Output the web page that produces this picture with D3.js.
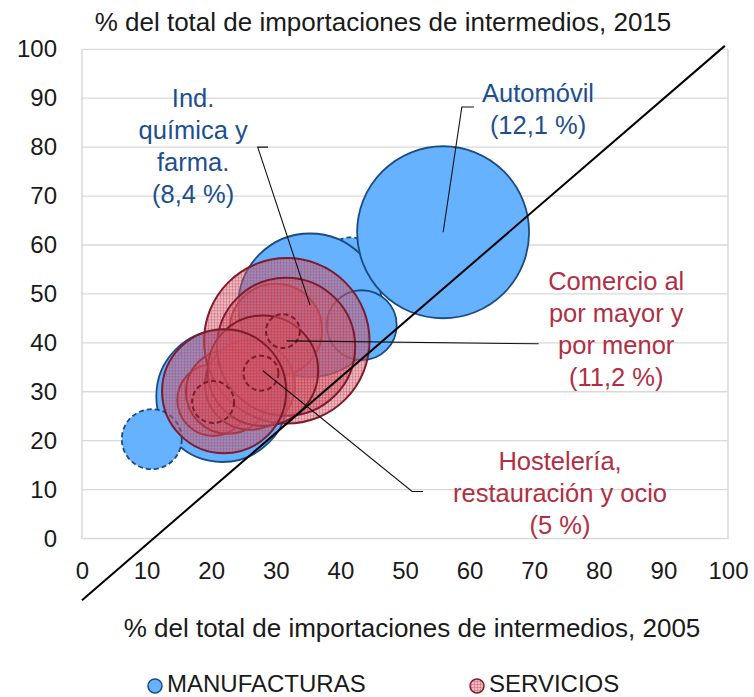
<!DOCTYPE html>
<html>
<head>
<meta charset="utf-8">
<script src="https://cdn.jsdelivr.net/npm/d3@7"></script>
<style>
  html, body { margin: 0; padding: 0; background: #fff; }
  #chart { width: 754px; height: 697px; }
  #chart text { font-family: "Liberation Sans", Arial, sans-serif; }
</style>
</head>
<body>
<div id="chart"></div>
<script>
// ejes
const xTicks = [0, 10, 20, 30, 40, 50, 60, 70, 80, 90, 100];
const yTicks = [0, 10, 20, 30, 40, 50, 60, 70, 80, 90, 100];
const xTitulo = '% del total de importaciones de intermedios, 2005';
const yTitulo = '% del total de importaciones de intermedios, 2015';

// manufacturas (x = 2005, y = 2015, peso = % del total)
const manufNombres = ['Manuf. a', 'Manuf. b', 'Ind. química y farma.', 'Automóvil', 'Manuf. c', 'Manuf. d'];
const manufX = [41.5, 21.7, 35.3, 55.9, 43.3, 10.8];
const manufY = [56.5, 29.1, 47.7, 62.6, 43.6, 20.3];
const manufPeso = [1.0, 7.1, 8.4, 12.1, 2.0, 1.47];

// servicios
const servNombres = ['Serv. a', 'Serv. b', 'Serv. c', 'Serv. d', 'Comercio al por mayor y por menor', 'Serv. e',
  'Hostelería, restauración y ocio', 'Serv. f', 'Serv. g', 'Serv. h', 'Serv. i'];
const servX = [30.0, 20.3, 22.6, 26.0, 31.7, 31.6, 28.0, 22.0, 31.1, 27.7, 20.3];
const servY = [42.6, 28.3, 30.0, 31.4, 40.4, 39.2, 34.3, 30.1, 42.4, 33.8, 27.9];
const servPeso = [3.5, 2.1, 2.9, 3.3, 11.2, 7.8, 5.0, 6.3, 0.47, 0.5, 0.72];

// diagonal de referencia
const diagonal = [[0, -12.6], [99.5, 100.7]];

// etiquetas
const etiquetas = [
  { serie: 'manuf', nombre: 'Automóvil', lineas: ['Automóvil', '(12,1 %)'], x: 70.6, y: 89.3, codo: [[60.7, 88.2], [58.8, 88.2]] },
  { serie: 'manuf', nombre: 'Ind. química y farma.', lineas: ['Ind.', 'química y', 'farma.', '(8,4 %)'], x: 17.2, y: 88.2, codo: [[28.8, 80.0], [27.2, 80.0]] },
  { serie: 'serv', nombre: 'Comercio al por mayor y por menor', lineas: ['Comercio al', 'por mayor y', 'por menor', '(11,2 %)'], x: 82.7, y: 50.7, codo: [[70.7, 39.8]] },
  { serie: 'serv', nombre: 'Hostelería, restauración y ocio', lineas: ['Hostelería,', 'restauración y ocio', '(5 %)'], x: 74.0, y: 14.0, codo: [[52.8, 9.6], [51.1, 9.6]] }
];

class BubbleChart {
  constructor(id) {
    this.id = id;
    this.width = 754;
    this.height = 697;
    this.margin = { top: 49.3, right: 26, bottom: 158.5, left: 82 };
    this.innerWidth = this.width - this.margin.left - this.margin.right;
    this.innerHeight = this.height - this.margin.top - this.margin.bottom;
    this.colores = {
      manuf: '#66b2ff', manufBorde: '#1b4c80',
      servBorde: '#7c1c2c',
      textoManuf: '#1d4f8f', textoServ: '#b12f43',
      grid: '#d9d9d9', texto: '#1a1a1a'
    };
    this.init();
  }
  init() {
    this.initSvg();
    this.initScale();
    this.initGrid();
    this.drawBubbles();
    this.drawDiagonal();
    this.drawLabels();
    this.drawLegend();
  }
  initSvg() {
    this.svg = d3.select(`#${this.id}`).append('svg')
      .attr('width', this.width)
      .attr('height', this.height);
    const defs = this.svg.append('defs');
    // trama de servicios
    const pat = defs.append('pattern')
      .attr('id', 'tramaServ')
      .attr('patternUnits', 'userSpaceOnUse')
      .attr('width', 3).attr('height', 3);
    pat.append('rect').attr('width', 3).attr('height', 3).attr('fill', 'rgba(210,90,105,0.42)');
    pat.append('path').attr('d', 'M0,0.5H3M0.5,0V3')
      .attr('stroke', 'rgba(195,65,85,0.33)').attr('stroke-width', 1);
    this.mg = this.svg.append('g')
      .attr('transform', `translate(${this.margin.left},${this.margin.top})`);
  }
  initScale() {
    this.xScale = d3.scaleLinear().domain([0, 100]).range([0, this.innerWidth]);
    this.yScale = d3.scaleLinear().domain([0, 100]).range([this.innerHeight, 0]);
    this.rScale = d3.scaleSqrt().domain([0, 12.1]).range([0, 86]);
  }
  initGrid() {
    const g = this.mg.append('g');
    g.selectAll('line.grid').data(yTicks.filter(d => d > 0)).join('line')
      .attr('x1', 0).attr('x2', this.innerWidth)
      .attr('y1', d => this.yScale(d)).attr('y2', d => this.yScale(d))
      .attr('stroke', this.colores.grid).attr('stroke-width', 1.3);
    g.append('path')
      .attr('d', `M0,0V${this.innerHeight}H${this.innerWidth}V0`)
      .attr('fill', 'none').attr('stroke', this.colores.grid).attr('stroke-width', 1.5);

    const axisY = d3.axisLeft(this.yScale).tickValues(yTicks).tickSize(0).tickPadding(25);
    const ay = this.mg.append('g').call(axisY);
    ay.select('.domain').remove();
    ay.selectAll('text').attr('font-size', 24).attr('fill', this.colores.texto)
      .style('font-family', '"Liberation Sans", Arial, sans-serif');

    const axisX = d3.axisBottom(this.xScale).tickValues(xTicks).tickSize(0).tickPadding(23);
    const ax = this.mg.append('g').attr('transform', `translate(0,${this.innerHeight})`).call(axisX);
    ax.select('.domain').remove();
    ax.selectAll('text').attr('font-size', 24).attr('fill', this.colores.texto)
      .style('font-family', '"Liberation Sans", Arial, sans-serif');

    this.svg.append('text')
      .attr('x', 383).attr('y', 31).attr('text-anchor', 'middle')
      .attr('font-size', 26).attr('fill', this.colores.texto).text(yTitulo);
    this.svg.append('text')
      .attr('x', 412).attr('y', 637).attr('text-anchor', 'middle')
      .attr('font-size', 26).attr('fill', this.colores.texto).text(xTitulo);
  }
  drawBubbles() {
    const manuf = manufNombres.map((n, i) => ({ nombre: n, x: manufX[i], y: manufY[i], peso: manufPeso[i] }));
    const serv = servNombres.map((n, i) => ({ nombre: n, x: servX[i], y: servY[i], peso: servPeso[i] }));
    this.puntos = { manuf, serv };
    // pesos pequeños con borde discontinuo
    const dash = d => d.peso < 1.6 ? '5,3' : null;

    this.mg.append('g').selectAll('circle').data(manuf).join('circle')
      .attr('cx', d => this.xScale(d.x)).attr('cy', d => this.yScale(d.y))
      .attr('r', d => this.rScale(d.peso))
      .attr('fill', this.colores.manuf)
      .attr('stroke', this.colores.manufBorde).attr('stroke-width', 1.8)
      .attr('stroke-dasharray', dash);

    this.mg.append('g').selectAll('circle').data(serv).join('circle')
      .attr('cx', d => this.xScale(d.x)).attr('cy', d => this.yScale(d.y))
      .attr('r', d => this.rScale(d.peso))
      .attr('fill', 'url(#tramaServ)')
      .attr('stroke', this.colores.servBorde).attr('stroke-width', 2)
      .attr('stroke-dasharray', dash);
  }
  drawDiagonal() {
    const line = d3.line().x(d => this.xScale(d[0])).y(d => this.yScale(d[1]));
    this.mg.append('path').datum(diagonal)
      .attr('d', line).attr('fill', 'none')
      .attr('stroke', '#000').attr('stroke-width', 2);
  }
  drawLabels() {
    const line = d3.line().x(d => this.xScale(d[0])).y(d => this.yScale(d[1]));
    etiquetas.forEach(e => {
      const p = this.puntos[e.serie].find(d => d.nombre === e.nombre);
      const color = e.serie === 'manuf' ? this.colores.textoManuf : this.colores.textoServ;
      this.mg.append('path').datum([...e.codo, [p.x, p.y]])
        .attr('d', line).attr('fill', 'none')
        .attr('stroke', '#111').attr('stroke-width', 1.1);
      const t = this.mg.append('text')
        .attr('x', this.xScale(e.x)).attr('y', this.yScale(e.y))
        .attr('text-anchor', 'middle')
        .attr('font-size', 25.5).attr('fill', color);
      t.selectAll('tspan').data(e.lineas).join('tspan')
        .attr('x', this.xScale(e.x))
        .attr('dy', (d, i) => i === 0 ? 0 : 32)
        .text(d => d);
    });
  }
  drawLegend() {
    const leg = this.svg.append('g');
    const items = [
      { texto: 'MANUFACTURAS', x: 155, fill: this.colores.manuf, borde: this.colores.manufBorde },
      { texto: 'SERVICIOS', x: 477, fill: 'url(#tramaServ)', borde: this.colores.servBorde }
    ];
    items.forEach(it => {
      leg.append('circle').attr('cx', it.x).attr('cy', 686).attr('r', 7)
        .attr('fill', it.fill).attr('stroke', it.borde).attr('stroke-width', 1.5);
      leg.append('text').attr('x', it.x + 12).attr('y', 692)
        .attr('font-size', 24).attr('fill', this.colores.texto).text(it.texto);
    });
  }
}

new BubbleChart('chart');
</script>
</body>
</html>
